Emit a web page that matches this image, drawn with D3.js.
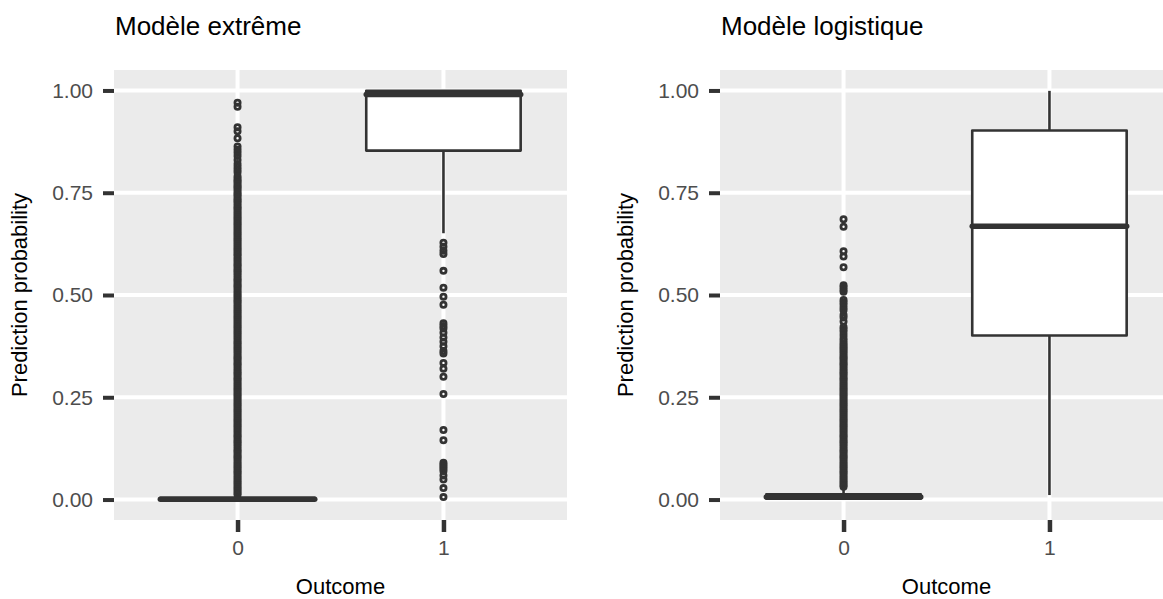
<!DOCTYPE html>
<html>
<head>
<meta charset="utf-8">
<script src="https://cdn.jsdelivr.net/npm/d3@7"></script>
<style>
  body { margin: 0; background: #fff; }
  text { font-family: "Liberation Sans", Arial, Helvetica, sans-serif; }
</style>
</head>
<body>
<div id="chart"></div>
<script>
var width = 1163;
var height = 599;

// categories and labels
var outcomes = ["0", "1"];
var panelTitles = ["Modèle extrême", "Modèle logistique"];
var yTicks = [0, 0.25, 0.5, 0.75, 1];

// box stats: [lower whisker, q1, median, q3, upper whisker]
var extremeBox0 = [0, 0.0005, 0.001, 0.004, 0.011];
var extremeBox1 = [0.651, 0.853, 0.99, 0.999, 1.0];
var logisticBox0 = [0, 0.002, 0.006, 0.013, 0.03];
var logisticBox1 = [0.011, 0.401, 0.668, 0.902, 0.999];

// outliers
var extremeOut0 = [0.97, 0.96, 0.91, 0.90, 0.883, 0.863, 0.855, 0.848, 0.84, 0.83, 0.82, 0.813, 0.806, 0.80, 0.79,
  0.785, 0.78, 0.776, 0.771, 0.766, 0.762, 0.757, 0.752, 0.747, 0.743, 0.738, 0.733, 0.729, 0.724, 0.719,
  0.714, 0.71, 0.705, 0.7, 0.695, 0.69, 0.686, 0.681, 0.676, 0.672, 0.667, 0.662, 0.657, 0.652, 0.648,
  0.643, 0.638, 0.634, 0.629, 0.624, 0.619, 0.614, 0.61, 0.605, 0.6, 0.596, 0.591, 0.586, 0.581, 0.576,
  0.572, 0.567, 0.562, 0.558, 0.553, 0.548, 0.543, 0.538, 0.534, 0.529, 0.524, 0.52, 0.515, 0.51, 0.505,
  0.5, 0.496, 0.491, 0.486, 0.482, 0.477, 0.472, 0.467, 0.462, 0.458, 0.453, 0.448, 0.444, 0.439, 0.434,
  0.429, 0.424, 0.42, 0.415, 0.41, 0.406, 0.401, 0.396, 0.391, 0.386, 0.382, 0.377, 0.372, 0.368, 0.363,
  0.358, 0.353, 0.348, 0.344, 0.339, 0.334, 0.33, 0.325, 0.32, 0.315, 0.31, 0.306, 0.301, 0.296, 0.292,
  0.287, 0.282, 0.277, 0.272, 0.268, 0.263, 0.258, 0.254, 0.249, 0.244, 0.239, 0.234, 0.23, 0.225, 0.22,
  0.216, 0.211, 0.206, 0.201, 0.196, 0.192, 0.187, 0.182, 0.178, 0.173, 0.168, 0.163, 0.158, 0.154, 0.149,
  0.144, 0.14, 0.135, 0.13, 0.125, 0.12, 0.116, 0.111, 0.106, 0.102, 0.097, 0.092, 0.087, 0.082, 0.078,
  0.073, 0.068, 0.064, 0.059, 0.054, 0.049, 0.044, 0.04, 0.035, 0.03, 0.026, 0.021, 0.016, 0.012];
var extremeOut1 = [0.628, 0.618, 0.608, 0.600, 0.559, 0.518, 0.496, 0.476, 0.431, 0.424, 0.418, 0.408, 0.396,
  0.386, 0.375, 0.363, 0.357, 0.334, 0.320, 0.300, 0.258, 0.170, 0.145, 0.090, 0.085, 0.080, 0.075, 0.070,
  0.059, 0.049, 0.028, 0.006];
var logisticOut0 = [0.685, 0.667, 0.607, 0.594, 0.568, 0.524, 0.519, 0.513, 0.508, 0.488, 0.482, 0.476, 0.469,
  0.463, 0.451, 0.445, 0.435, 0.422, 0.416, 0.41, 0.402, 0.394, 0.388,
  0.382, 0.377, 0.372, 0.368, 0.363, 0.358, 0.353, 0.348, 0.344, 0.339, 0.334, 0.33, 0.325, 0.32, 0.315,
  0.31, 0.306, 0.301, 0.296, 0.292, 0.287, 0.282, 0.277, 0.272, 0.268, 0.263, 0.258, 0.254, 0.249, 0.244,
  0.239, 0.234, 0.23, 0.225, 0.22, 0.216, 0.211, 0.206, 0.201, 0.196, 0.192, 0.187, 0.182, 0.178, 0.173,
  0.168, 0.163, 0.158, 0.154, 0.149, 0.144, 0.14, 0.135, 0.13, 0.125, 0.12, 0.116, 0.111, 0.106, 0.102,
  0.097, 0.092, 0.087, 0.082, 0.078, 0.073, 0.068, 0.064, 0.059, 0.054, 0.049, 0.044, 0.04, 0.035, 0.031];
var logisticOut1 = [];

var panels = [
  { title: panelTitles[0], left: 114, boxes: [extremeBox0, extremeBox1], outliers: [extremeOut0, extremeOut1] },
  { title: panelTitles[1], left: 720, boxes: [logisticBox0, logisticBox1], outliers: [logisticOut0, logisticOut1] }
];

var panelTop = 70;
var panelBottom = 520;
var panelWidth = 453;
var ink = "#333333";

var svg = d3.select('#chart')
  .append('svg')
  .attr('width', width)
  .attr('height', height);

var y = d3.scaleLinear().domain([-0.05, 1.05]).range([panelBottom, panelTop]);

panels.forEach(function(p) {
  var x = d3.scalePoint().domain(outcomes).range([p.left, p.left + panelWidth]).padding(0.6);
  var boxW = x.step() * 0.75;
  var g = svg.append("g");

  // background + grid
  g.append("rect")
    .attr("x", p.left).attr("y", panelTop)
    .attr("width", panelWidth).attr("height", panelBottom - panelTop)
    .attr("fill", "#EBEBEB");

  g.selectAll(".hgrid").data(yTicks).enter().append("line")
    .attr("x1", p.left).attr("x2", p.left + panelWidth)
    .attr("y1", d => y(d)).attr("y2", d => y(d))
    .attr("stroke", "#fff").attr("stroke-width", 4);

  g.selectAll(".vgrid").data(outcomes).enter().append("line")
    .attr("x1", d => x(d)).attr("x2", d => x(d))
    .attr("y1", panelTop).attr("y2", panelBottom)
    .attr("stroke", "#fff").attr("stroke-width", 4);

  // axes
  var yAxis = d3.axisLeft(y).tickValues(yTicks).tickFormat(d3.format(".2f")).tickSize(11).tickPadding(10);
  var ya = g.append("g").attr("transform", `translate(${p.left},0)`).call(yAxis);
  ya.select(".domain").remove();
  ya.selectAll(".tick line").attr("stroke", ink).attr("stroke-width", 4);
  ya.selectAll(".tick text").attr("fill", "#4D4D4D").style("font-size", "21px");

  var xAxis = d3.axisBottom(x).tickSize(12).tickPadding(8);
  var xa = g.append("g").attr("transform", `translate(0,${panelBottom})`).call(xAxis);
  xa.select(".domain").remove();
  xa.selectAll(".tick line").attr("stroke", ink).attr("stroke-width", 4.5);
  xa.selectAll(".tick text").attr("fill", "#4D4D4D").style("font-size", "21px");

  // boxplots
  outcomes.forEach(function(cat, i) {
    var s = p.boxes[i];
    var cx = x(cat);

    g.selectAll(".out" + i).data(p.outliers[i]).enter().append("circle")
      .attr("cx", cx)
      .attr("cy", d => y(d))
      .attr("r", 2.6)
      .attr("fill", "none")
      .attr("stroke", ink)
      .attr("stroke-width", 2.8);

    g.append("line").attr("x1", cx).attr("x2", cx)
      .attr("y1", y(s[0])).attr("y2", y(s[1]))
      .attr("stroke", ink).attr("stroke-width", 2.6);
    g.append("line").attr("x1", cx).attr("x2", cx)
      .attr("y1", y(s[3])).attr("y2", y(s[4]))
      .attr("stroke", ink).attr("stroke-width", 2.6);

    g.append("rect")
      .attr("x", cx - boxW / 2).attr("y", y(s[3]))
      .attr("width", boxW).attr("height", y(s[1]) - y(s[3]))
      .attr("fill", "#fff")
      .attr("stroke", ink).attr("stroke-width", 2.6)
      .attr("stroke-linejoin", "round");

    g.append("line")
      .attr("x1", cx - boxW / 2).attr("x2", cx + boxW / 2)
      .attr("y1", y(s[2])).attr("y2", y(s[2]))
      .attr("stroke", ink).attr("stroke-width", 5.5)
      .attr("stroke-linecap", "round");
  });

  // titles
  g.append("text")
    .attr("x", p.left + 1).attr("y", 35)
    .style("font-size", "26px").attr("fill", "#000")
    .text(p.title);

  g.append("text")
    .attr("transform", `translate(${p.left - 87},${(panelTop + panelBottom) / 2}) rotate(-90)`)
    .attr("text-anchor", "middle")
    .style("font-size", "22px").attr("fill", "#000")
    .text("Prediction probability");

  g.append("text")
    .attr("x", p.left + panelWidth / 2).attr("y", 594)
    .attr("text-anchor", "middle")
    .style("font-size", "22px").attr("fill", "#000")
    .text("Outcome");
});
</script>
</body>
</html>
